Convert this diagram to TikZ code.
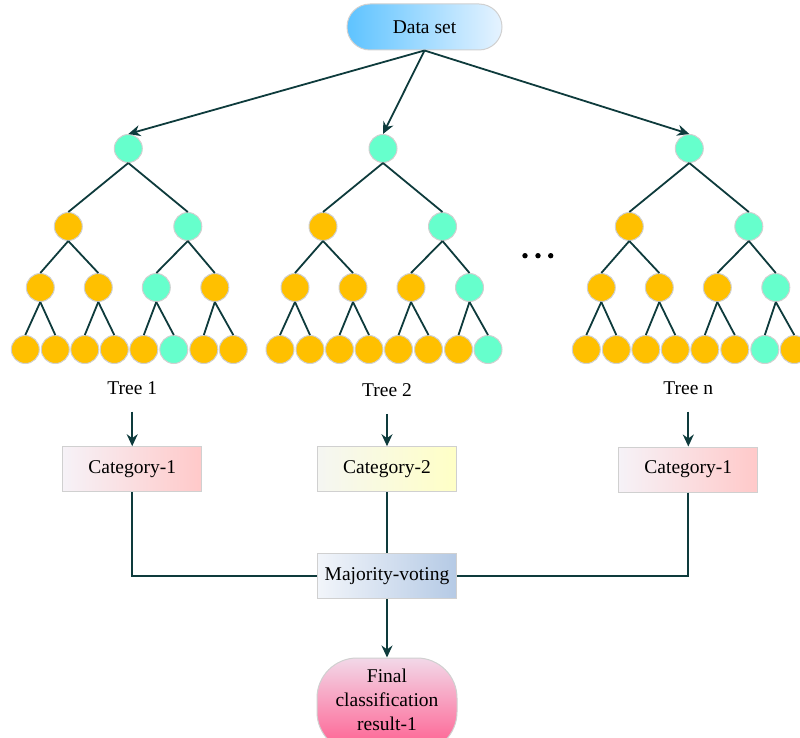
\documentclass[tikz,border=0pt]{standalone}
\usepackage{fontspec}
\setmainfont{Liberation Serif}
\usetikzlibrary{arrows.meta}
\definecolor{leafteal}{HTML}{66FFCC}
\definecolor{leaforange}{HTML}{FFC000}
\definecolor{linedark}{HTML}{0E3B3C}
\definecolor{rim}{HTML}{D0D0D0}
\definecolor{dsleft}{HTML}{5EC3FF}
\definecolor{dsmid}{HTML}{8DD5FF}
\definecolor{dsright}{HTML}{E6F3FF}
\definecolor{pinkA}{HTML}{F6F2F7}
\definecolor{pinkB}{HTML}{FFC9C9}
\definecolor{yelA}{HTML}{F5F6F2}
\definecolor{yelB}{HTML}{FFFFC6}
\definecolor{mvA}{HTML}{F2F5FA}
\definecolor{mvB}{HTML}{B5CAE5}
\definecolor{finA}{HTML}{F2D8E8}
\definecolor{finB}{HTML}{FF5C8E}

% colour codes per tree, heap order (1 = teal, 0 = orange)
\def\colsA{1,0,1,0,0,1,0,0,0,0,0,0,1,0,0}
\def\colsB{1,0,1,0,0,0,1,0,0,0,0,0,0,0,1}
\def\colsN{1,0,1,0,0,0,1,0,0,0,0,0,0,1,0}

\begin{document}
\begin{tikzpicture}[x=1pt,y=-1pt,
  font=\fontsize{19.5}{24}\selectfont,
  every node/.style={inner sep=0pt},
  tnode/.style={circle, draw=rim, line width=1pt, minimum size=28pt},
  link/.style={draw=linedark, line width=1.8pt},
  arr/.style={link, -{Stealth[length=12pt,width=11pt]}},
  catbox/.style={draw=rim, line width=1pt, minimum width=139pt, minimum height=45pt},
]
\useasboundingbox (0,0) rectangle (800,738);

% source node
\node[draw=rim, line width=1pt, rounded corners=23pt, minimum width=155pt,
      minimum height=46pt, left color=dsleft, middle color=dsmid,
      right color=dsright] (ds) at (424.5,27) {Data set};

% three binary trees of depth 3
\foreach \tr/\rx/\cols in {1/128.3/\colsA, 2/383/\colsB, n/689.3/\colsN}{
  \foreach \i/\dx/\yy in {1/0/148.5, 2/-60/226.5, 3/59.5/226.5,
      4/-88/287.5, 5/-30/287.5, 6/28/287.5, 7/86.5/287.5,
      8/-103/349.5, 9/-73/349.5, 10/-43.5/349.5, 11/-14/349.5,
      12/15.5/349.5, 13/45.5/349.5, 14/75.5/349.5, 15/105/349.5}{
    \pgfmathtruncatemacro\c{{\cols}[\i-1]}
    \ifnum\c=1 \def\fc{leafteal}\else\def\fc{leaforange}\fi
    \node[tnode, fill=\fc] (t\tr-\i) at (\rx+\dx, \yy) {};
  }
  \foreach \i in {2,...,15}{
    \pgfmathtruncatemacro\p{floor(\i/2)}
    \draw[link] (t\tr-\p.south) -- (t\tr-\i.north);
  }
}

% data set feeds every tree
\draw[arr] (ds.south) -- (t1-1.north);
\draw[arr] (ds.south) -- (t2-1.north);
\draw[arr] (ds.south) -- (tn-1.north);

% ellipsis between trees
\fill (525,255.7) circle (2.7);
\fill (538,255.7) circle (2.7);
\fill (550.7,255.7) circle (2.7);

% per-tree predictions
\node[catbox, left color=pinkA, right color=pinkB] (c1) at (132.2,469.2) {Category-1};
\node[catbox, left color=yelA, right color=yelB] (c2) at (387,469.2) {Category-2};
\node[catbox, left color=pinkA, right color=pinkB] (cn) at (688.3,469.5) {Category-1};

\node (lab1) at (132.2,388) {Tree 1};
\node (lab2) at (387,390) {Tree 2};
\node (labn) at (688.3,388) {Tree n};

\draw[arr] ([yshift=-17pt]lab1.south) -- (c1.north);
\draw[arr] ([yshift=-17pt]lab2.south) -- (c2.north);
\draw[arr] ([yshift=-17pt]labn.south) -- (cn.north);

% vote aggregation
\node[catbox, left color=mvA, right color=mvB] (mv) at (387,576) {Majority-voting};
\draw[link] (c1.south) |- (mv.west);
\draw[link] (c2.south) -- (mv.north);
\draw[link] (cn.south) |- (mv.east);

% final result
\node[draw=rim, line width=1pt, rounded corners=40pt, minimum width=140pt,
      minimum height=94pt, top color=finA, bottom color=finB] (fin) at (387,705) {};
\node[align=center] (fintxt) at (387,700) {Final\\classification\\result-1};
\draw[arr] (mv.south) -- (fin.north);
\end{tikzpicture}
\end{document}
